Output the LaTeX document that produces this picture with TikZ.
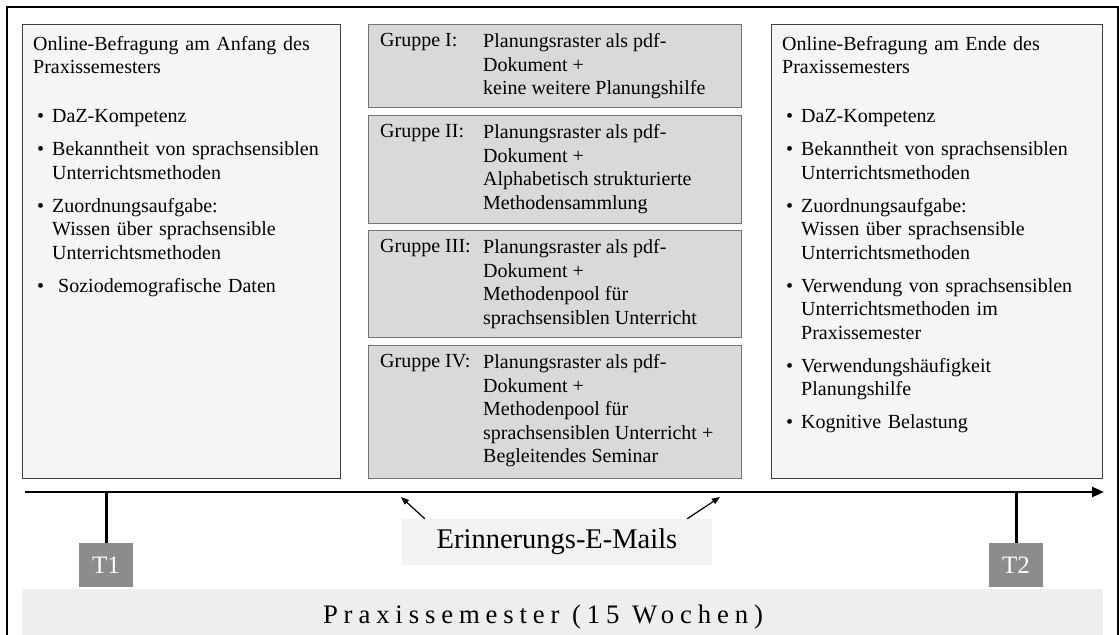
\documentclass[tikz,border=0pt]{standalone}
\usepackage{fontspec}
\setmainfont{Liberation Serif}
\usepackage{enumitem}
\usetikzlibrary{arrows.meta}

\definecolor{surveyfill}{HTML}{F5F5F5}
\definecolor{groupfill}{HTML}{D9D9D9}
\definecolor{tfill}{HTML}{8C8C8C}
\definecolor{mailfill}{HTML}{F2F2F2}
\definecolor{bandfill}{HTML}{EEEEEE}

\setlist[itemize]{leftmargin=19bp, labelwidth=15bp, labelsep=0pt, align=left,
    topsep=25.5bp, itemsep=9.5bp, parsep=0pt, partopsep=0pt, label=\textbullet}

\tikzset{
    surveybox/.style={draw=black!75, fill=surveyfill, line width=0.8bp, anchor=north west,
        minimum height=454bp, inner sep=0pt},
    listtext/.style={anchor=north west, text width=296bp, inner xsep=11bp, inner ysep=12bp,
        align=left, font=\fontsize{20bp}{23.5bp}\selectfont},
    groupbox/.style={draw=black!55, fill=groupfill, line width=0.8bp, anchor=north west,
        minimum width=373bp, inner sep=0pt},
    grouplabel/.style={anchor=north west, inner xsep=12bp, inner ysep=9.5bp,
        font=\fontsize{20bp}{23.5bp}\selectfont},
    groupbody/.style={anchor=north west, inner xsep=12bp, inner ysep=9.5bp, align=left,
        font=\fontsize{20bp}{23.5bp}\selectfont},
    timeline/.style={line width=2.5bp, -{Triangle[length=12bp, width=10bp]}},
    tick/.style={line width=3bp},
    tbox/.style={fill=tfill, text=white, minimum width=54bp, minimum height=44bp,
        inner sep=0pt, font=\fontsize{25bp}{28bp}\selectfont},
    mailbox/.style={fill=mailfill, minimum width=310bp, minimum height=46bp, inner sep=0pt,
        font=\fontsize{28.5bp}{32bp}\selectfont},
    mailarrow/.style={line width=1.2bp, -{Triangle[length=8bp, width=6bp]}},
    band/.style={fill=bandfill, minimum width=1081bp, minimum height=50bp, inner sep=0pt},
    bandtext/.style={anchor=base, inner sep=0pt,
        font=\fontsize{26.7bp}{30bp}\selectfont\addfontfeatures{LetterSpace=22}}
}

\begin{document}
\begin{tikzpicture}[x=1bp, y=-1bp]
    \useasboundingbox (0,0) rectangle (1119,635);
    \draw[line width=1.5bp] (7,650) -- (7,7) -- (1118,7) -- (1118,650);

    \node[surveybox, minimum width=318bp] (anfang) at (22,24) {};
    \node[listtext] (anfangtext) at (anfang.north west) {%
        Online-Befragung am Anfang des\\Praxissemesters
        \begin{itemize}
            \item DaZ-Kompetenz
            \item Bekanntheit von sprachsensiblen\newline Unterrichtsmethoden
            \item Zuordnungsaufgabe:\newline Wissen über sprachsensible\newline Unterrichtsmethoden
            \item \hspace{6bp}Soziodemografische Daten
        \end{itemize}};

    \node[groupbox, minimum height=83bp] (gruppe1) at (368,24) {};
    \node[grouplabel] (gruppe1label) at (gruppe1.north west) {Gruppe I:};
    \node[groupbody] (gruppe1body) at ([xshift=103bp]gruppe1.north west)
        {Planungsraster als pdf-\\Dokument +\\keine weitere Planungshilfe};

    \node[groupbox, minimum height=108bp] (gruppe2) at (368,115) {};
    \node[grouplabel] (gruppe2label) at (gruppe2.north west) {Gruppe II:};
    \node[groupbody] (gruppe2body) at ([xshift=103bp]gruppe2.north west)
        {Planungsraster als pdf-\\Dokument +\\Alphabetisch strukturierte\\Methodensammlung};

    \node[groupbox, minimum height=107bp] (gruppe3) at (368,230) {};
    \node[grouplabel] (gruppe3label) at (gruppe3.north west) {Gruppe III:};
    \node[groupbody] (gruppe3body) at ([xshift=103bp]gruppe3.north west)
        {Planungsraster als pdf-\\Dokument +\\Methodenpool für\\sprachsensiblen Unterricht};

    \node[groupbox, minimum height=133bp] (gruppe4) at (368,345) {};
    \node[grouplabel] (gruppe4label) at (gruppe4.north west) {Gruppe IV:};
    \node[groupbody] (gruppe4body) at ([xshift=103bp]gruppe4.north west)
        {Planungsraster als pdf-\\Dokument +\\Methodenpool für\\sprachsensiblen Unterricht +\\Begleitendes Seminar};

    \node[surveybox, minimum width=331bp] (ende) at (771,24) {};
    \node[listtext] (endetext) at (ende.north west) {%
        Online-Befragung am Ende des\\Praxissemesters
        \begin{itemize}
            \item DaZ-Kompetenz
            \item Bekanntheit von sprachsensiblen\newline Unterrichtsmethoden
            \item Zuordnungsaufgabe:\newline Wissen über sprachsensible\newline Unterrichtsmethoden
            \item Verwendung von sprachsensiblen\newline Unterrichtsmethoden im\newline Praxissemester
            \item Verwendungshäufigkeit\newline Planungshilfe
            \item Kognitive Belastung
        \end{itemize}};

    \coordinate (axisstart) at (25,492);
    \coordinate (axisend) at (1104,492);
    \draw[timeline] (axisstart) -- (axisend);

    \node[tbox] (t1) at (106,565) {T1};
    \node[tbox] (t2) at (1016,565) {T2};
    \draw[tick] (t1.north) -- (t1.north |- axisstart);
    \draw[tick] (t2.north) -- (t2.north |- axisstart);

    \node[mailbox] (mails) at (557,542) {Erinnerungs-E-Mails};
    \coordinate (mail1) at (401,497);
    \coordinate (mail2) at (720,497);
    \draw[mailarrow] ([xshift=23bp]mails.north west) -- (mail1);
    \draw[mailarrow] ([xshift=-25bp]mails.north east) -- (mail2);

    \node[band] (semester) at (562.5,614) {};
    \node[bandtext] (semestertext) at (543,623) {Praxissemester (15 Wochen)};
\end{tikzpicture}
\end{document}
